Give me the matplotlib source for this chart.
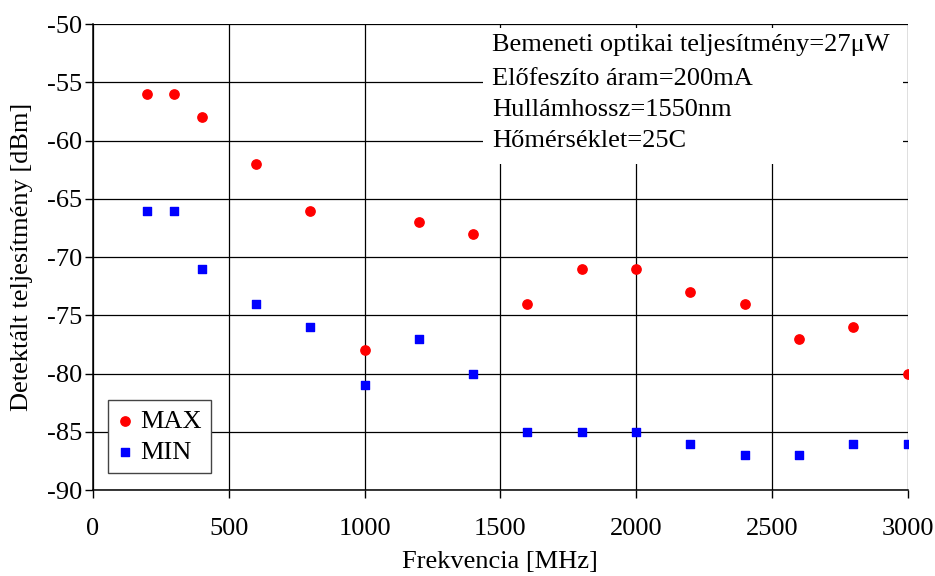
import matplotlib
matplotlib.use("Agg")
import matplotlib.pyplot as plt
from matplotlib.patches import Rectangle

freq = [200, 300, 400, 600, 800, 1000, 1200, 1400, 1600, 1800, 2000, 2200, 2400, 2600, 2800, 3000]
p_max = [-56, -56, -58, -62, -66, -78, -67, -68, -74, -71, -71, -73, -74, -77, -76, -80]
p_min = [-66, -66, -71, -74, -76, -81, -77, -80, -85, -85, -85, -86, -87, -87, -86, -86]
info_lines = [
    "Bemeneti optikai teljesítmény=27\u03bcW",
    "Előfeszíto áram=200mA",
    "Hullámhossz=1550nm",
    "Hőmérséklet=25C",
]

plt.rcParams["font.family"] = ["Liberation Serif", "DejaVu Serif"]
plt.rcParams["font.size"] = 19
plt.rcParams["axes.unicode_minus"] = False

fig = plt.figure(figsize=(9.35, 5.76), dpi=100)
ax = fig.add_axes([0.0995, 0.149, 0.8711, 0.809])

ax.scatter(freq, p_max, s=45, marker="o", color="#ff0000", label="MAX", zorder=4)
ax.scatter(freq, p_min, s=36, marker="s", color="#0000ff", label="MIN", zorder=4)

ax.set_xlim(0, 3000)
ax.set_ylim(-90, -50)
ax.set_xticks(range(0, 3001, 500))
ax.set_yticks(range(-90, -49, 5))
ax.grid(True, color="black", linewidth=0.9)
ax.set_axisbelow(True)
for side in ("top", "right"):
    ax.spines[side].set_visible(False)
ax.spines["left"].set_linewidth(1.1)
ax.spines["bottom"].set_linewidth(1.1)
ax.tick_params(direction="out", length=6, width=1)
ax.tick_params(axis="x", pad=14)
ax.tick_params(axis="y", pad=2)

# white box behind the measurement conditions
ax.add_patch(Rectangle((1437, -62.0), 1548, 11.7, facecolor="white",
                       edgecolor="none", zorder=2))
for y, line in zip([-51.8, -54.7, -57.4, -60.0], info_lines):
    ax.text(1470, y, line, va="center", ha="left", fontsize=19, zorder=3)

ax.set_xlabel("Frekvencia [MHz]", labelpad=8)
ax.set_ylabel("Detektált teljesítmény [dBm]", labelpad=10)

leg = ax.legend(loc="lower left", bbox_to_anchor=(0.018, 0.036), borderaxespad=0,
                fancybox=False, framealpha=1, edgecolor="#444444",
                handlelength=0.6, handletextpad=0.3, borderpad=0.35, labelspacing=0.3)
leg.get_frame().set_linewidth(1.0)

fig.savefig("out.png", dpi=100)
